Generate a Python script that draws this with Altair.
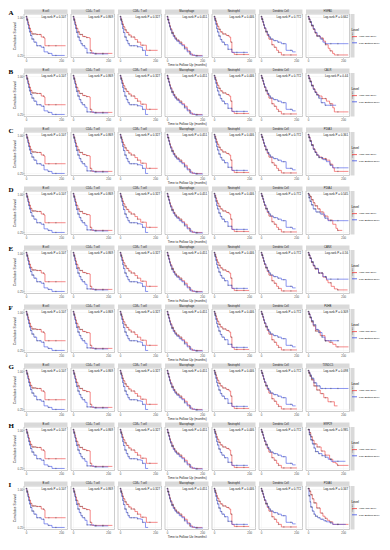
import altair as alt
import pandas as pd

# ---------------- data ----------------
CELL_TITLES = ["B cell", "CD4+ T cell", "CD8+ T cell", "Macrophage", "Neutrophil", "Dendritic Cell"]
CELL_P = ["0.107", "0.869", "0.327", "0.451", "0.446", "0.772"]
ROW_LETTERS = ["A", "B", "C", "D", "E", "F", "G", "H", "I"]
GENES = ["HSPA5", "CALR", "PDIA3", "PDIA4", "CANX", "P4HB", "TXNDC5", "ERP29", "PDIA6"]
GENE_P = ["0.662", "0.44", "0.361", "0.545", "0.56", "0.309", "0.098", "0.985", "0.347"]
STRIP_RIGHT = "SKCM"
LEVELS = ["High (Top 50%)", "Low (Bottom 50%)"]
COLORS = ["#ee3b3b", "#4050e6"]
X_TICKS = [0, 50, 100, 150, 200]
Y_TICKS = [0.25, 0.50, 0.75, 1.00]
X_TITLE = "Time to Follow Up (months)"
Y_TITLE = "Cumulative Survival"
CENSOR_T = [3, 6, 9, 13, 17, 22, 28, 35, 43, 52, 64, 80, 100, 130, 170]

# (time in months, survival) step points
BCELL_HIGH = [(0, 1.0), (5, 0.95), (10, 0.89), (15, 0.83), (20, 0.77), (26, 0.71), (34, 0.66),
              (60, 0.65), (87, 0.6), (103, 0.58), (108, 0.43), (225, 0.43)]
BCELL_LOW = [(0, 1.0), (5, 0.93), (10, 0.85), (15, 0.77), (20, 0.7), (26, 0.63), (34, 0.56),
             (45, 0.5), (61, 0.43), (87, 0.4), (103, 0.31), (125, 0.28), (148, 0.24), (220, 0.24)]
CD4_HIGH = [(0, 1.0), (5, 0.95), (10, 0.89), (15, 0.83), (20, 0.77), (28, 0.7), (36, 0.65),
            (55, 0.61), (75, 0.59), (93, 0.58), (98, 0.34), (107, 0.28), (224, 0.28)]
CD4_LOW = [(0, 1.0), (5, 0.93), (10, 0.85), (15, 0.77), (20, 0.69), (28, 0.6), (36, 0.53),
           (45, 0.47), (53, 0.43), (68, 0.38), (80, 0.29), (120, 0.27), (200, 0.27)]
CD8_HIGH = [(0, 1.0), (5, 0.95), (10, 0.9), (15, 0.85), (20, 0.8), (28, 0.74), (36, 0.69),
            (50, 0.64), (64, 0.6), (85, 0.55), (100, 0.5), (118, 0.44), (150, 0.34), (214, 0.34)]
CD8_LOW = [(0, 1.0), (5, 0.93), (10, 0.85), (15, 0.77), (20, 0.69), (28, 0.6), (36, 0.53),
           (45, 0.47), (53, 0.43), (100, 0.41), (118, 0.4), (128, 0.34), (145, 0.24), (160, 0.24)]
MACRO_HIGH = [(0, 1.0), (5, 0.94), (10, 0.88), (15, 0.82), (20, 0.76), (28, 0.69), (36, 0.63),
              (45, 0.58), (55, 0.54), (70, 0.5), (85, 0.45), (100, 0.4), (115, 0.33), (130, 0.27),
              (145, 0.24), (200, 0.24)]
MACRO_LOW = [(0, 1.0), (5, 0.94), (10, 0.87), (15, 0.8), (20, 0.74), (28, 0.67), (36, 0.61),
             (45, 0.56), (55, 0.52), (70, 0.47), (85, 0.43), (100, 0.37), (115, 0.31), (135, 0.25),
             (160, 0.23), (205, 0.23)]
NEUT_HIGH = [(0, 1.0), (5, 0.96), (10, 0.91), (15, 0.86), (20, 0.81), (28, 0.75), (36, 0.7),
             (50, 0.66), (70, 0.63), (86, 0.6), (95, 0.5), (102, 0.3), (115, 0.26), (200, 0.26)]
NEUT_LOW = [(0, 1.0), (5, 0.93), (10, 0.85), (15, 0.77), (20, 0.7), (28, 0.62), (36, 0.55),
            (45, 0.5), (60, 0.45), (80, 0.36), (102, 0.3), (193, 0.3)]
DC_HIGH = [(0, 1.0), (5, 0.95), (10, 0.89), (15, 0.83), (20, 0.77), (28, 0.7), (36, 0.63),
           (45, 0.56), (62, 0.45), (75, 0.4), (89, 0.34), (100, 0.3), (116, 0.25), (204, 0.25)]
DC_LOW = [(0, 1.0), (5, 0.95), (10, 0.9), (15, 0.84), (20, 0.78), (28, 0.71), (36, 0.65),
          (45, 0.6), (55, 0.56), (71, 0.53), (95, 0.5), (116, 0.47), (143, 0.34), (179, 0.31), (197, 0.31)]

GENE_A_HIGH = [(0, 1.0), (6, 0.95), (12, 0.89), (20, 0.82), (30, 0.75), (40, 0.68), (50, 0.62),
               (70, 0.58), (88, 0.52), (100, 0.45), (115, 0.38), (125, 0.33), (140, 0.28), (150, 0.25), (228, 0.25)]
GENE_A_LOW = [(0, 1.0), (6, 0.95), (12, 0.9), (20, 0.83), (30, 0.76), (40, 0.69), (52, 0.62),
              (70, 0.56), (85, 0.5), (97, 0.47), (230, 0.47)]
GENE_B_HIGH = [(0, 1.0), (6, 0.95), (12, 0.89), (20, 0.81), (30, 0.74), (40, 0.68), (50, 0.63),
               (61, 0.6), (80, 0.55), (105, 0.5), (123, 0.45), (141, 0.37), (150, 0.29), (230, 0.29)]
GENE_B_LOW = [(0, 1.0), (6, 0.94), (12, 0.88), (20, 0.8), (30, 0.73), (40, 0.67), (50, 0.62),
              (61, 0.56), (75, 0.47), (97, 0.42), (160, 0.42)]
GENE_C_HIGH = [(0, 1.0), (6, 0.95), (12, 0.88), (20, 0.8), (30, 0.72), (40, 0.66), (50, 0.6),
               (62, 0.56), (80, 0.53), (105, 0.5), (125, 0.42), (141, 0.35), (150, 0.28), (230, 0.28)]
GENE_C_LOW = [(0, 1.0), (6, 0.94), (12, 0.87), (20, 0.79), (30, 0.71), (40, 0.65), (50, 0.6),
              (62, 0.55), (85, 0.51), (105, 0.47), (125, 0.4), (141, 0.35), (230, 0.35)]
GENE_D_HIGH = [(0, 1.0), (6, 0.97), (12, 0.94), (20, 0.88), (30, 0.82), (40, 0.76), (55, 0.7),
               (70, 0.64), (90, 0.56), (114, 0.48), (141, 0.4), (159, 0.32), (168, 0.28), (195, 0.28)]
GENE_D_LOW = [(0, 1.0), (6, 0.92), (12, 0.85), (20, 0.78), (30, 0.7), (45, 0.64), (70, 0.6),
              (95, 0.52), (114, 0.47), (230, 0.47)]
GENE_E_HIGH = [(0, 1.0), (6, 0.95), (12, 0.89), (20, 0.81), (30, 0.74), (40, 0.68), (60, 0.6),
               (85, 0.52), (105, 0.46), (114, 0.41), (132, 0.34), (150, 0.29), (168, 0.27), (225, 0.27)]
GENE_E_LOW = [(0, 1.0), (6, 0.95), (12, 0.89), (20, 0.82), (30, 0.75), (40, 0.69), (60, 0.6),
              (85, 0.53), (105, 0.48), (230, 0.48)]
GENE_F_HIGH = [(0, 1.0), (6, 0.95), (12, 0.88), (20, 0.8), (30, 0.72), (43, 0.62), (70, 0.53),
               (97, 0.43), (120, 0.4), (141, 0.36), (159, 0.31), (230, 0.31)]
GENE_F_LOW = [(0, 1.0), (6, 0.95), (12, 0.89), (20, 0.82), (30, 0.74), (45, 0.65), (61, 0.59),
              (80, 0.5), (97, 0.43), (177, 0.43)]
GENE_G_HIGH = [(0, 1.0), (6, 0.95), (12, 0.89), (20, 0.82), (34, 0.7), (50, 0.62), (70, 0.55),
               (90, 0.47), (114, 0.39), (150, 0.31), (168, 0.31)]
GENE_G_LOW = [(0, 1.0), (6, 0.96), (12, 0.91), (20, 0.85), (34, 0.76), (50, 0.7), (70, 0.65), (230, 0.65)]
GENE_H_HIGH = [(0, 1.0), (8, 0.94), (16, 0.86), (25, 0.79), (35, 0.72), (52, 0.66), (75, 0.58),
               (97, 0.5), (123, 0.42), (141, 0.36), (159, 0.33), (168, 0.3), (230, 0.3)]
GENE_H_LOW = [(0, 1.0), (8, 0.9), (16, 0.8), (25, 0.72), (35, 0.64), (43, 0.57), (60, 0.53),
              (80, 0.49), (97, 0.46), (115, 0.42), (132, 0.38), (213, 0.38)]
GENE_I_HIGH = [(0, 1.0), (8, 0.95), (16, 0.88), (25, 0.8), (34, 0.72), (50, 0.62), (70, 0.52),
               (85, 0.46), (97, 0.42), (110, 0.38), (123, 0.35), (141, 0.3), (230, 0.3)]
GENE_I_LOW = [(0, 1.0), (6, 0.86), (12, 0.74), (16, 0.64), (25, 0.56), (35, 0.5), (43, 0.46),
              (55, 0.43), (70, 0.4), (90, 0.37), (105, 0.35), (125, 0.33), (141, 0.3), (215, 0.3)]

CELL_HIGH = [BCELL_HIGH, CD4_HIGH, CD8_HIGH, MACRO_HIGH, NEUT_HIGH, DC_HIGH]
CELL_LOW = [BCELL_LOW, CD4_LOW, CD8_LOW, MACRO_LOW, NEUT_LOW, DC_LOW]
GENE_HIGH = [GENE_A_HIGH, GENE_B_HIGH, GENE_C_HIGH, GENE_D_HIGH, GENE_E_HIGH,
             GENE_F_HIGH, GENE_G_HIGH, GENE_H_HIGH, GENE_I_HIGH]
GENE_LOW = [GENE_A_LOW, GENE_B_LOW, GENE_C_LOW, GENE_D_LOW, GENE_E_LOW,
            GENE_F_LOW, GENE_G_LOW, GENE_H_LOW, GENE_I_LOW]

# ---------------- layout ----------------
W, H, S = 43.5, 43.5, 4.5
GAP = 2
X_DOMAIN = [-11, 236]
Y_DOMAIN = [0.2, 1.05]
FONT = "Liberation Sans"
ONE = pd.DataFrame({"k": [0]})


def surv_at(curve, t):
    s = curve[0][1]
    for tt, ss in curve:
        if tt <= t:
            s = ss
        else:
            break
    return s


def panel(title, pval, high, low, first=False, mid=False, last=False, letter=None):
    lines = pd.DataFrame(
        [{"time": t, "surv": s, "level": LEVELS[0]} for t, s in high]
        + [{"time": t, "surv": s, "level": LEVELS[1]} for t, s in low]
    )
    cens = pd.DataFrame(
        [{"time": t, "surv": surv_at(c, t)} for c in (high, low) for t in CENSOR_T if t < c[-1][0]]
    )
    xaxis = alt.Axis(values=X_TICKS, labelFontSize=2.8, tickSize=1, labelPadding=0.3,
                     title=X_TITLE if mid else None, titleFontSize=3.2, titlePadding=0.6)
    if first:
        yaxis = alt.Axis(values=Y_TICKS, format=".2f", labelFontSize=2.8, tickSize=1, labelPadding=0.5,
                         title=Y_TITLE, titleFontSize=3.2, titlePadding=1)
    else:
        yaxis = alt.Axis(values=Y_TICKS, labels=False, ticks=False, title=None)
    x = alt.X("time:Q", scale=alt.Scale(domain=X_DOMAIN, nice=False, zero=False), axis=xaxis)
    y = alt.Y("surv:Q", scale=alt.Scale(domain=Y_DOMAIN, nice=False, zero=False), axis=yaxis)
    legend = alt.Legend(title="Level", orient="none", legendX=7 * W + 6 * GAP + 11, legendY=15,
                        titleFontSize=3.1, titleFontWeight="normal", titleFont=FONT, titlePadding=1.5,
                        labelFontSize=2.5, labelFont=FONT, labelOffset=1.5,
                        symbolType="stroke", symbolSize=25, symbolStrokeWidth=0.8,
                        rowPadding=1.2, padding=0)
    line = alt.Chart(lines).mark_line(interpolate="step-after", strokeWidth=0.6).encode(
        x=x, y=y,
        color=alt.Color("level:N", scale=alt.Scale(domain=LEVELS, range=COLORS), legend=legend),
    )
    pts = alt.Chart(cens).mark_point(shape="M-1,0L1,0M0,-1L0,1", size=2.5, strokeWidth=0.3,
                                     color="#444444", filled=False, opacity=0.85).encode(
        x=alt.X("time:Q", scale=alt.Scale(domain=X_DOMAIN, nice=False, zero=False)),
        y=alt.Y("surv:Q", scale=alt.Scale(domain=Y_DOMAIN, nice=False, zero=False)),
    )
    strip = alt.Chart(ONE).mark_rect(color="#d9d9d9").encode(
        x=alt.value(0), x2=alt.value(W), y=alt.value(-S), y2=alt.value(-0.3))
    strip_txt = alt.Chart(ONE).mark_text(fontSize=2.7, font=FONT, color="#1a1a1a", baseline="middle").encode(
        x=alt.value(W / 2), y=alt.value(-S / 2), text=alt.value(title))
    p_txt = alt.Chart(ONE).mark_text(fontSize=2.9, font=FONT, color="#1a1a1a", align="right", baseline="top").encode(
        x=alt.value(W - 1.5), y=alt.value(2), text=alt.value("Log-rank P = " + pval))
    layers = [line, pts, strip, strip_txt, p_txt]
    if letter is not None:
        layers.append(alt.Chart(ONE).mark_text(fontSize=7, font="Liberation Serif", fontWeight="bold",
                                               align="left", baseline="top", color="#000").encode(
            x=alt.value(-15.5), y=alt.value(-S - 0.5), text=alt.value(letter)))
    if last:
        layers.append(alt.Chart(ONE).mark_rect(color="#d9d9d9").encode(
            x=alt.value(W + 1), x2=alt.value(W + 5), y=alt.value(0), y2=alt.value(H)))
        layers.append(alt.Chart(ONE).mark_text(fontSize=2.5, font=FONT, angle=90, color="#1a1a1a",
                                               baseline="middle").encode(
            x=alt.value(W + 3), y=alt.value(H / 2), text=alt.value(STRIP_RIGHT)))
    return alt.layer(*layers).properties(width=W, height=H)


rows = []
for r in range(9):
    panels = []
    for c in range(6):
        panels.append(panel(CELL_TITLES[c], CELL_P[c], CELL_HIGH[c], CELL_LOW[c],
                            first=(c == 0), mid=(c == 3),
                            letter=ROW_LETTERS[r] if c == 0 else None))
    panels.append(panel(GENES[r], GENE_P[r], GENE_HIGH[r], GENE_LOW[r], last=True))
    rows.append(alt.hconcat(*panels, spacing=GAP))

chart = (
    alt.vconcat(*rows, spacing=1)
    .resolve_scale(color="independent")
    .resolve_legend(color="independent")
    .properties(padding=0, background="white")
    .configure_view(stroke="#9a9a9a", strokeWidth=0.5)
    .configure_axis(gridColor="#ebebeb", gridWidth=0.35, domain=False, tickColor="#555555",
                    tickWidth=0.3, labelColor="#4d4d4d", labelFont=FONT, titleFont=FONT,
                    titleFontWeight="normal", titleColor="#1a1a1a")
)

chart.save("out.html", embed_options={"renderer": "svg", "actions": False})
